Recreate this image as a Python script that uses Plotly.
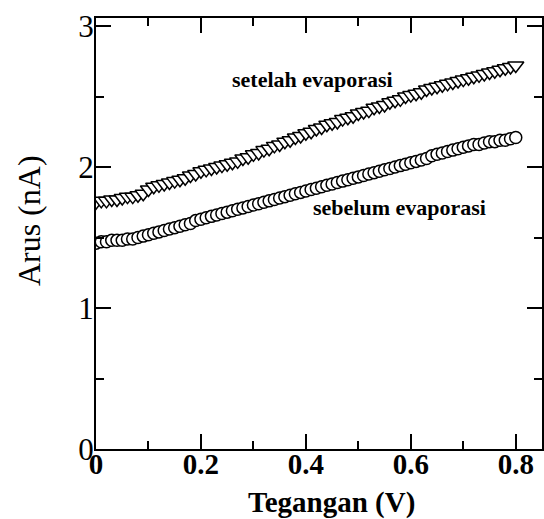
import plotly.graph_objects as go

voltage = [round(i * 0.01, 2) for i in range(81)]

arus_sebelum = [
    1.46, 1.47, 1.47, 1.48, 1.48, 1.48, 1.49, 1.49, 1.50, 1.51, 1.52,
    1.53, 1.54, 1.55, 1.56, 1.57, 1.58, 1.59, 1.60, 1.62, 1.63,
    1.64, 1.65, 1.66, 1.67, 1.68, 1.69, 1.70, 1.71, 1.72, 1.73,
    1.74, 1.75, 1.76, 1.77, 1.78, 1.79, 1.80, 1.81, 1.82, 1.83,
    1.84, 1.85, 1.86, 1.87, 1.88, 1.89, 1.90, 1.91, 1.92, 1.93,
    1.94, 1.95, 1.96, 1.97, 1.98, 1.99, 2.00, 2.01, 2.02, 2.03,
    2.04, 2.05, 2.06, 2.08, 2.09, 2.10, 2.11, 2.12, 2.13, 2.14,
    2.15, 2.16, 2.16, 2.17, 2.18, 2.18, 2.19, 2.19, 2.20, 2.21,
]

arus_setelah = [
    1.75, 1.76, 1.76, 1.77, 1.77, 1.78, 1.79, 1.79, 1.80, 1.81, 1.84,
    1.86, 1.87, 1.88, 1.89, 1.90, 1.91, 1.92, 1.94, 1.95, 1.97,
    1.98, 1.99, 2.00, 2.01, 2.02, 2.03, 2.04, 2.06, 2.07, 2.09,
    2.10, 2.12, 2.13, 2.15, 2.16, 2.18, 2.19, 2.21, 2.22, 2.24,
    2.25, 2.27, 2.28, 2.30, 2.31, 2.32, 2.34, 2.35, 2.36, 2.38,
    2.39, 2.40, 2.42, 2.43, 2.44, 2.46, 2.47, 2.48, 2.50, 2.51,
    2.52, 2.53, 2.55, 2.56, 2.57, 2.58, 2.59, 2.60, 2.61, 2.62,
    2.63, 2.64, 2.65, 2.66, 2.67, 2.68, 2.69, 2.70, 2.71, 2.72,
]

x_ticks = [0, 0.2, 0.4, 0.6, 0.8]
x_tick_labels = ["<b>0</b>", "<b>0.2</b>", "<b>0.4</b>", "<b>0.6</b>", "<b>0.8</b>"]
y_ticks = [0, 1, 2, 3]
y_tick_labels = ["0", "1", "2", "3"]

FONT = "Liberation Serif"

fig = go.Figure()
fig.add_trace(go.Scatter(
    x=voltage, y=arus_setelah, mode="markers",
    marker=dict(symbol="triangle-down", size=14, color="white",
                line=dict(color="black", width=1.5)),
    showlegend=False))
fig.add_trace(go.Scatter(
    x=voltage, y=arus_sebelum, mode="markers",
    marker=dict(symbol="circle", size=12, color="white",
                line=dict(color="black", width=1.5)),
    showlegend=False))

fig.add_annotation(x=0.413, y=2.62, text="<b>setelah evaporasi</b>", showarrow=False,
                   xanchor="center", yanchor="middle",
                   font=dict(family=FONT, size=22, color="black"))
fig.add_annotation(x=0.579, y=1.71, text="<b>sebelum evaporasi</b>", showarrow=False,
                   xanchor="center", yanchor="middle",
                   font=dict(family=FONT, size=22, color="black"))

# axis titles
fig.add_annotation(xref="paper", yref="paper", x=0.529, y=-0.125,
                   xanchor="center", yanchor="middle",
                   text="<b>Tegangan (V)</b>", showarrow=False,
                   font=dict(family=FONT, size=29, color="black"))
fig.add_annotation(xref="paper", yref="paper", x=-0.150, y=0.529,
                   xanchor="center", yanchor="middle",
                   text="Arus (nA)", showarrow=False, textangle=-90,
                   font=dict(family=FONT, size=32, color="black"))

axis_common = dict(
    showgrid=False, zeroline=False, showline=True, linecolor="black", linewidth=2,
    mirror="ticks", ticks="inside", ticklen=15, tickwidth=2, tickcolor="black",
    automargin=False,
)

fig.update_xaxes(range=[0, 0.85], tickvals=x_ticks, ticktext=x_tick_labels,
                 minor=dict(dtick=0.1, tick0=0, ticks="inside", ticklen=8, tickwidth=2, tickcolor="black"),
                 tickfont=dict(family=FONT, size=29, color="black"),
                 ticklabelstandoff=-12,
                 **axis_common)
fig.update_yaxes(range=[0, 3.057], tickvals=y_ticks, ticktext=y_tick_labels,
                 minor=dict(dtick=0.5, tick0=0, ticks="inside", ticklen=8, tickwidth=2, tickcolor="black"),
                 tickfont=dict(family=FONT, size=31, color="black"),
                 ticklabelstandoff=-6,
                 **axis_common)

fig.update_layout(width=544, height=519, margin=dict(l=96, r=2, t=18, b=70),
                  plot_bgcolor="white", paper_bgcolor="white")

fig.write_html("out.html", config={"displayModeBar": False},
               post_script="document.body.style.margin='0';document.body.style.overflow='hidden';")
